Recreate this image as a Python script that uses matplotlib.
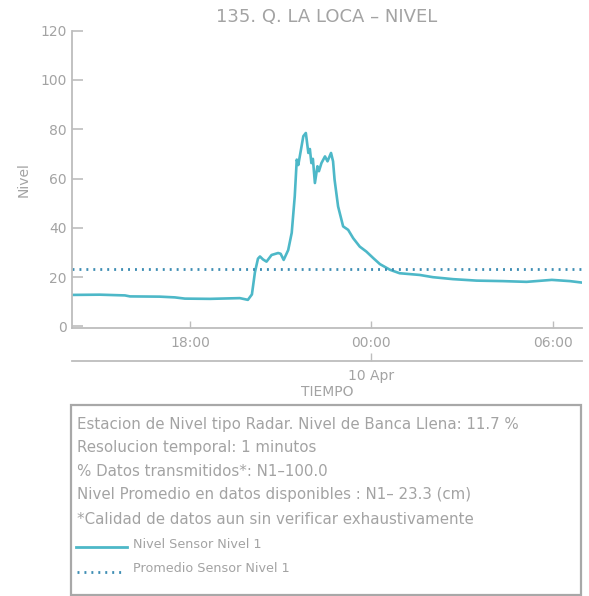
import matplotlib
matplotlib.use("Agg")
import matplotlib.pyplot as plt
import matplotlib.dates as mdates
import pandas as pd
from matplotlib.lines import Line2D
from matplotlib.patches import Rectangle

plt.rcParams['font.family'] = ['DejaVu Sans']

# ---- data ----
times = ["2024-04-09 14:06", "2024-04-09 15:01", "2024-04-09 15:51", "2024-04-09 16:01",
         "2024-04-09 17:00", "2024-04-09 17:30", "2024-04-09 17:50", "2024-04-09 18:40",
         "2024-04-09 19:19", "2024-04-09 19:39", "2024-04-09 19:55", "2024-04-09 20:03",
         "2024-04-09 20:09", "2024-04-09 20:15", "2024-04-09 20:19", "2024-04-09 20:25",
         "2024-04-09 20:32", "2024-04-09 20:42", "2024-04-09 20:55", "2024-04-09 21:00",
         "2024-04-09 21:06", "2024-04-09 21:15", "2024-04-09 21:22", "2024-04-09 21:28",
         "2024-04-09 21:32", "2024-04-09 21:35", "2024-04-09 21:38", "2024-04-09 21:45",
         "2024-04-09 21:50", "2024-04-09 21:55", "2024-04-09 21:58", "2024-04-09 22:01",
         "2024-04-09 22:04", "2024-04-09 22:08", "2024-04-09 22:13", "2024-04-09 22:16",
         "2024-04-09 22:21", "2024-04-09 22:28", "2024-04-09 22:33", "2024-04-09 22:40",
         "2024-04-09 22:44", "2024-04-09 22:47", "2024-04-09 22:54", "2024-04-09 23:04",
         "2024-04-09 23:14", "2024-04-09 23:24", "2024-04-09 23:37", "2024-04-09 23:50",
         "2024-04-10 00:04", "2024-04-10 00:17", "2024-04-10 00:37", "2024-04-10 00:56",
         "2024-04-10 01:36", "2024-04-10 02:02", "2024-04-10 02:42", "2024-04-10 03:29",
         "2024-04-10 04:21", "2024-04-10 05:08", "2024-04-10 05:58", "2024-04-10 06:34",
         "2024-04-10 06:58"]
nivel = [12.8, 12.9, 12.6, 12.2,
         12.1, 11.8, 11.3, 11.2,
         11.4, 11.5, 10.8, 13.0,
         22.0, 27.5, 28.4, 27.2,
         26.3, 29.0, 29.8, 29.5,
         27.0, 31.0, 38.0, 52.8,
         67.7, 65.5, 69.0, 77.2,
         78.5, 70.4, 72.0, 66.3,
         68.0, 58.2, 65.0, 63.0,
         66.3, 69.0, 67.0, 70.4,
         67.0, 59.6, 48.7, 40.6,
         39.2, 35.8, 32.4, 30.4,
         27.7, 25.3, 23.0, 21.6,
         20.9, 20.0, 19.2, 18.6,
         18.4, 18.1, 18.9, 18.4,
         17.8]
promedio = 23.3
yticks = [0, 20, 40, 60, 80, 100, 120]
xtick_times = ["2024-04-09 18:00", "2024-04-10 00:00", "2024-04-10 06:00"]
title = "135. Q. LA LOCA \u2013 NIVEL"
info_lines = ["Estacion de Nivel tipo Radar. Nivel de Banca Llena: 11.7 %",
              "Resolucion temporal: 1 minutos",
              "% Datos transmitidos*: N1\u2013100.0",
              "Nivel Promedio en datos disponibles : N1\u2013 23.3 (cm)",
              "*Calidad de datos aun sin verificar exhaustivamente"]
legend_labels = ["Nivel Sensor Nivel 1", "Promedio Sensor Nivel 1"]

# ---- style ----
LINE_C = "#4db8c8"
MEAN_C = "#3d8db3"
TXT = "#a3a3a3"
SPINE = "#bdbdbd"
DOTS = (0, (0.7, 1.8))

W, H = 589, 596
fig = plt.figure(figsize=(W / 100, H / 100), dpi=100)

def fx(px):
    return px / W

def fy(py):
    return 1 - py / H

t = pd.to_datetime(times)
xmin = t[0]
xmax = t[-1]

ax = fig.add_axes([fx(72), fy(327.7), fx(582) - fx(72), fy(30.7) - fy(327.7)])
ax.plot(t, nivel, color=LINE_C, lw=1.9, solid_joinstyle='round')
ax.axhline(promedio, color=MEAN_C, lw=2.0, ls=DOTS)
ax.set_xlim(xmin, xmax)
ax.set_ylim(-0.5, 120)
ax.set_yticks(yticks)
ax.set_xticks(pd.to_datetime(xtick_times))
ax.xaxis.set_major_formatter(mdates.DateFormatter("%H:%M"))
for s in ["top", "right"]:
    ax.spines[s].set_visible(False)
for s in ["left", "bottom"]:
    ax.spines[s].set_color(SPINE)
    ax.spines[s].set_linewidth(1.3)
ax.tick_params(axis='y', direction='in', length=8, width=1.2, color=SPINE,
               labelcolor=TXT, labelsize=10, pad=4)
ax.tick_params(axis='x', direction='in', length=5, width=1.0, color=SPINE,
               labelcolor=TXT, labelsize=10, pad=6)
ax.set_ylabel("Nivel", color=TXT, fontsize=10, labelpad=7)
ax.set_title(title, color=TXT, fontsize=13, pad=6)

# secondary date axis
ax2 = fig.add_axes([fx(72), fy(361), fx(582) - fx(72), 0.001])
ax2.set_xlim(xmin, xmax)
ax2.set_yticks([])
ax2.set_xticks(pd.to_datetime(["2024-04-10 00:00"]))
ax2.set_xticklabels(["10 Apr"])
for s in ["top", "right", "left"]:
    ax2.spines[s].set_visible(False)
ax2.spines["bottom"].set_color(SPINE)
ax2.spines["bottom"].set_linewidth(1.3)
ax2.patch.set_visible(False)
ax2.tick_params(axis='x', direction='in', length=6, width=1.0, color=SPINE,
                labelcolor=TXT, labelsize=10, pad=6)

fig.text(fx(327), fy(392), "TIEMPO", color=TXT, fontsize=10, ha='center', va='center')

# info box
fig.patches.append(Rectangle((fx(71), fy(595)), fx(581) - fx(71), fy(405) - fy(595),
                             transform=fig.transFigure, fill=False,
                             edgecolor="#a8a8a8", lw=1.6))
ys = [424, 447.5, 471, 495, 519]
for yy, s in zip(ys, info_lines):
    fig.text(fx(77), fy(yy), s, color=TXT, fontsize=10.8, ha='left', va='center')

fig.lines.append(Line2D([fx(76), fx(127)], [fy(547), fy(547)], transform=fig.transFigure,
                        color=LINE_C, lw=2.0))
fig.lines.append(Line2D([fx(77), fx(125)], [fy(572), fy(572)], transform=fig.transFigure,
                        color=MEAN_C, lw=2.0, ls=DOTS))
fig.text(fx(133), fy(545), legend_labels[0], color=TXT, fontsize=9.2, ha='left', va='center')
fig.text(fx(133), fy(569), legend_labels[1], color=TXT, fontsize=9.2, ha='left', va='center')

fig.savefig("out.png", dpi=100)
